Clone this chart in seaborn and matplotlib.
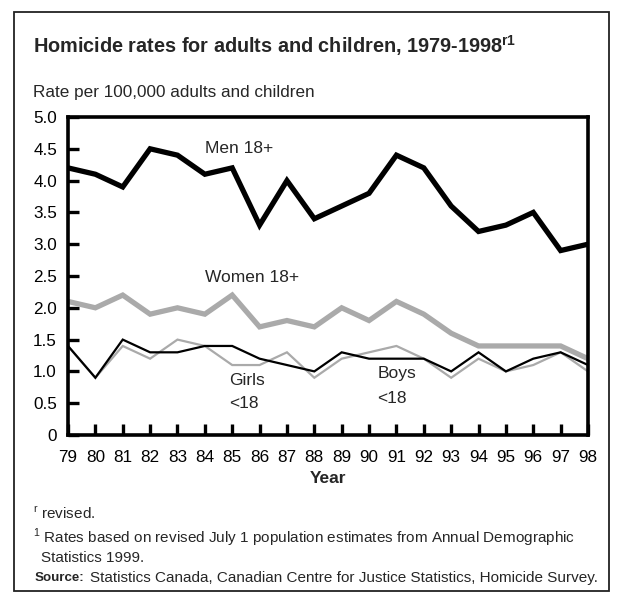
import matplotlib
matplotlib.use("Agg")
import matplotlib.pyplot as plt
import seaborn as sns
import pandas as pd
from matplotlib.patches import Rectangle

years = list(range(1979, 1999))
year_labels = [str(y)[2:] for y in years]
men = [4.2, 4.1, 3.9, 4.5, 4.4, 4.1, 4.2, 3.3, 4.0, 3.4, 3.6, 3.8, 4.4, 4.2, 3.6, 3.2, 3.3, 3.5, 2.9, 3.0]
women = [2.1, 2.0, 2.2, 1.9, 2.0, 1.9, 2.2, 1.7, 1.8, 1.7, 2.0, 1.8, 2.1, 1.9, 1.6, 1.4, 1.4, 1.4, 1.4, 1.2]
girls = [1.4, 0.9, 1.4, 1.2, 1.5, 1.4, 1.1, 1.1, 1.3, 0.9, 1.2, 1.3, 1.4, 1.2, 0.9, 1.2, 1.0, 1.1, 1.3, 1.0]
boys = [1.4, 0.9, 1.5, 1.3, 1.3, 1.4, 1.4, 1.2, 1.1, 1.0, 1.3, 1.2, 1.2, 1.2, 1.0, 1.3, 1.0, 1.2, 1.3, 1.1]
yticks = [0, 0.5, 1.0, 1.5, 2.0, 2.5, 3.0, 3.5, 4.0, 4.5, 5.0]
ytick_labels = ["0", "0.5", "1.0", "1.5", "2.0", "2.5", "3.0", "3.5", "4.0", "4.5", "5.0"]

df = pd.DataFrame({
    "Year": years * 4,
    "Rate": women + girls + boys + men,
    "Group": ["Women 18+"] * 20 + ["Girls <18"] * 20 + ["Boys <18"] * 20 + ["Men 18+"] * 20,
})

sns.set_theme(style="white")
plt.rcParams['font.family'] = ['Liberation Sans', 'DejaVu Sans']

fig = plt.figure(figsize=(6.23, 5.96), dpi=100)
ax = fig.add_axes([68 / 623, 1 - 435 / 596, 520 / 623, 318 / 596])

palette = {"Women 18+": "#aaaaaa", "Girls <18": "#aaaaaa", "Boys <18": "#000000", "Men 18+": "#000000"}
sizes = {"Women 18+": 3.8, "Girls <18": 1.6, "Boys <18": 1.6, "Men 18+": 3.8}
sns.lineplot(data=df, x="Year", y="Rate", hue="Group", size="Group", palette=palette,
             sizes=sizes, legend=False, ax=ax)
for ln in ax.get_lines():
    ln.set_solid_joinstyle("miter")

ax.set_xlim(1979, 1998)
ax.set_ylim(0, 5)
ax.set_xticks(years)
ax.set_xticklabels(year_labels)
ax.set_yticks(yticks)
ax.set_yticklabels(ytick_labels)
ax.tick_params(axis="both", direction="in", length=8, width=2.4, labelsize=12.3, colors="black")
ax.tick_params(axis="x", top=False, bottom=True, pad=11)
ax.tick_params(axis="y", left=True, right=False, pad=8)
for s in ax.spines.values():
    s.set_linewidth(2.6)
    s.set_color("black")
ax.set_xlabel("Year", fontsize=12.5, fontweight="bold", labelpad=4)
ax.set_ylabel("")

ax.text(1984.0, 4.51, "Men 18+", fontsize=12.5, ha="left", va="center")
ax.text(1984.0, 2.48, "Women 18+", fontsize=12.5, ha="left", va="center")
ax.text(1984.9, 0.85, "Girls", fontsize=12.5, ha="left", va="center")
ax.text(1984.9, 0.50, "<18", fontsize=12.5, ha="left", va="center")
ax.text(1990.3, 0.97, "Boys", fontsize=12.5, ha="left", va="center")
ax.text(1990.3, 0.58, "<18", fontsize=12.5, ha="left", va="center")

fig.patches.append(Rectangle((14 / 623, 1 - 591 / 596), 595 / 623, 579 / 596,
                             transform=fig.transFigure, fill=False, edgecolor="#222222", linewidth=1.3))

fig.text(33 / 623, 1 - 46 / 596, "Homicide rates for adults and children, 1979-1998$^{\\mathregular{r1}}$",
         fontsize=14.3, fontweight="bold", ha="left", va="center")
fig.text(33 / 623, 1 - 92 / 596, "Rate per 100,000 adults and children", fontsize=12.3, ha="left", va="center")
fig.text(33 / 623, 1 - 514 / 596, "$^{\\mathregular{r}}$ revised.", fontsize=11, ha="left", va="center")
fig.text(33 / 623, 1 - 538 / 596,
         "$^{\\mathregular{1}}$ Rates based on revised July 1 population estimates from Annual Demographic",
         fontsize=11, ha="left", va="center")
fig.text(41 / 623, 1 - 558 / 596, "Statistics 1999.", fontsize=11, ha="left", va="center")
fig.text(35 / 623, 1 - 578 / 596, "Source:", fontsize=9.6, fontweight="bold", ha="left", va="center")
fig.text(90 / 623, 1 - 578 / 596,
         "Statistics Canada, Canadian Centre for Justice Statistics, Homicide Survey.",
         fontsize=11, ha="left", va="center")

fig.savefig("out.png", dpi=100)
